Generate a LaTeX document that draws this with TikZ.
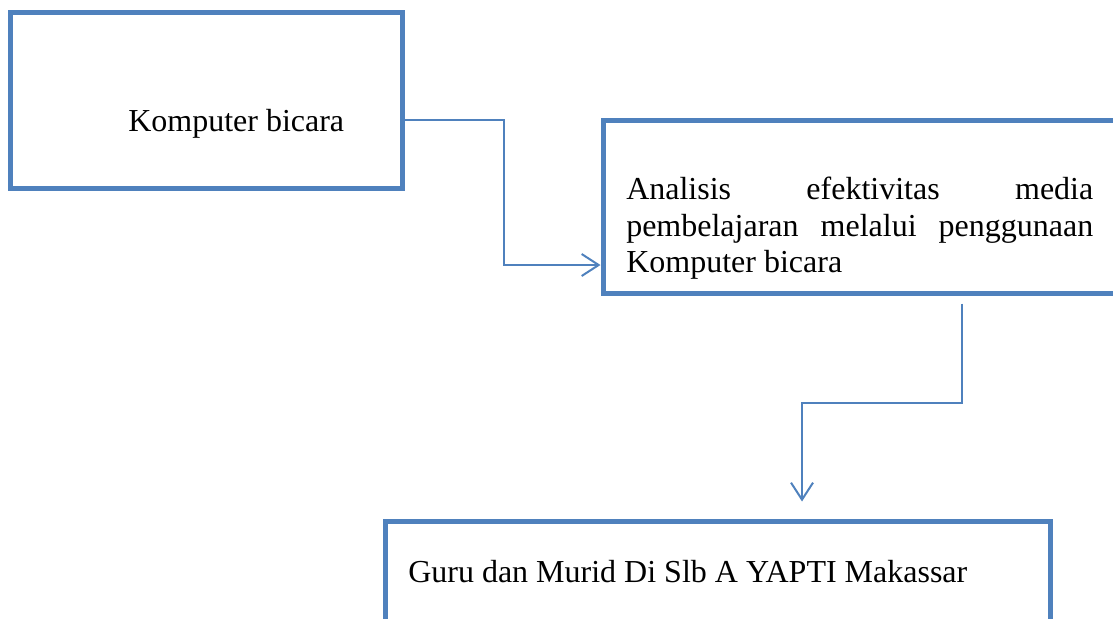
\documentclass[tikz,border=0pt]{standalone}
\usepackage{fontspec}
\setmainfont{Liberation Serif}
\usetikzlibrary{arrows.meta,fit}
\definecolor{boxblue}{RGB}{79,129,189}
\hyphenpenalty=10000
\tolerance=10000

\begin{document}
\begin{tikzpicture}[x=0.75pt,y=-0.75pt,
  box/.style={draw=boxblue,line width=3.75pt,inner sep=0pt},
  txt/.style={inner sep=0pt,font=\fontsize{24pt}{27.4pt}\selectfont},
  link/.style={draw=boxblue,line width=1.5pt,-{Straight Barb[length=12.75pt,width=16.5pt]}}]
\useasboundingbox (0,0) rectangle (1113,618);
\clip (0,0) rectangle (1113,618);
\node[box,fit={(10,12) (402,188)}] (A) {};
\node[box,fit={(603,120) (1140,293)}] (B) {};
\node[box,fit={(385,521) (1050,660)}] (C) {};
\node[txt,anchor=base west] (a) at (128,131) {Komputer bicara};
\node[txt,anchor=north west,text width=350.25pt,align=justify] (b) at (626,177) {Analisis efektivitas media pembelajaran melalui penggunaan Komputer bicara};
\node[txt,anchor=base west] (c) at (408,582) {Guru dan Murid Di Slb A YAPTI Makassar};
\coordinate (p1) at (504,120);
\coordinate (p2) at (504,265);
\coordinate (q1) at (962,403);
\coordinate (q2) at (802,403);
\draw[link] (A.east |- p1) -- (p1) -- (p2) -- (B.west |- p2);
\draw[link,shorten <=6pt,shorten >=12.75pt] (B.south -| q1) -- (q1) -- (q2) -- (C.north -| q2);
\end{tikzpicture}
\end{document}
